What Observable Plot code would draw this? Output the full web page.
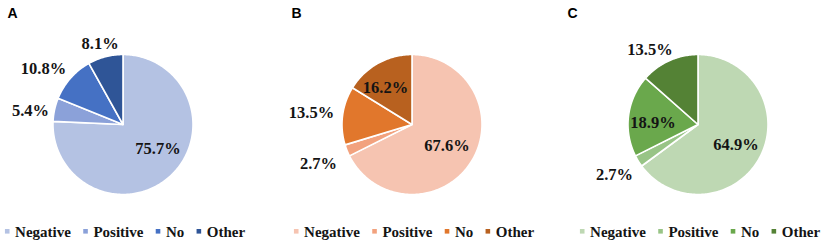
<!DOCTYPE html>
<html><head><meta charset="utf-8">
<script src="https://cdn.jsdelivr.net/npm/d3@7"></script>
<script src="https://cdn.jsdelivr.net/npm/@observablehq/plot@0.6"></script>
<style>body{margin:0;background:#fff}</style>
</head><body><div id="chart"></div>
<script>
// ---- data ----
const categories = ["Negative", "Positive", "No", "Other"];
const panelLetters = ["A", "B", "C"];
const valuesA = [75.7, 5.4, 10.8, 8.1];
const valuesB = [67.6, 2.7, 13.5, 16.2];
const valuesC = [64.9, 2.7, 18.9, 13.5];
const colorsA = ["#b4c2e3", "#8ba1d9", "#4571c4", "#2f5597"];
const colorsB = ["#f6c4b1", "#f2a27e", "#e1772c", "#b8611f"];
const colorsC = ["#bed8b3", "#98c486", "#6aa84c", "#548235"];

// ---- layout ----
const W = 829, H = 250, R = 70;
const layout = [
  {cx: 122.5, cy: 124, letterX: 7, place: [
    {inside: true, dx: 6, dy: -6.4}, {inside: false, dx: -7, dy: 4.5},
    {inside: false, dx: -13.9, dy: 1.6}, {inside: false, dx: -0.9, dy: 4.2}]},
  {cx: 411.5, cy: 124, letterX: 291, place: [
    {inside: true, dx: -0.7, dy: -1.1}, {inside: false, dx: -12.3, dy: 6.8},
    {inside: false, dx: -13.7, dy: -1}, {inside: true, dx: -6, dy: 0}]},
  {cx: 697.5, cy: 124, letterX: 567, place: [
    {inside: true, dx: 0.5, dy: 1.1}, {inside: false, dx: -8.9, dy: 4.3},
    {inside: true, dx: -3.3, dy: 4.1}, {inside: false, dx: -12, dy: 5}]}
];
const panelValues = [valuesA, valuesB, valuesC];
const panelColors = [colorsA, colorsB, colorsC];

const canvas = document.createElement("canvas");
const ctx = canvas.getContext("2d");
const legendFont = 15;
ctx.font = `bold ${legendFont}px 'Liberation Serif'`;

const slicePts = [], labels = [], legendSq = [], legendTxt = [], letters = [];
const pie = d3.pie().sort(null).value(d => d.value);

panelLetters.forEach((letter, pi) => {
  const L = layout[pi];
  const arcs = pie(categories.map((c, i) => ({cat: c, value: panelValues[pi][i], color: panelColors[pi][i]})));
  arcs.forEach(a => {
    const key = letter + "-" + a.data.cat;
    const color = a.data.color;
    const n = Math.max(2, Math.ceil((a.endAngle - a.startAngle) / (Math.PI / 180)));
    slicePts.push({key, x: L.cx, y: L.cy, color});
    for (let k = 0; k <= n; k++) {
      const t = a.startAngle + (a.endAngle - a.startAngle) * k / n;
      slicePts.push({key, x: L.cx + R * Math.sin(t), y: L.cy - R * Math.cos(t), color});
    }
    const mid = (a.startAngle + a.endAngle) / 2;
    const pl = L.place[a.index];
    const d = pl.inside ? 0.6 * R : 1.25 * R;
    labels.push({x: L.cx + d * Math.sin(mid) + pl.dx, y: L.cy - d * Math.cos(mid) + pl.dy, text: a.data.value.toFixed(1) + "%"});
  });
  // legend flow layout, centred under the pie
  const sq = 4.6, gapT = 5.6, gapI = 12.3;
  const widths = categories.map(c => ctx.measureText(c).width);
  const total = widths.reduce((s, w) => s + sq + gapT + w, 0) + gapI * (categories.length - 1);
  let x = L.cx + 2 - total / 2;
  categories.forEach((c, i) => {
    legendSq.push({x: x + sq / 2, y: 230.8, color: panelColors[pi][i]});
    legendTxt.push({x: x + sq + gapT, y: 232, text: c});
    x += sq + gapT + widths[i] + gapI;
  });
  letters.push({x: L.letterX, y: 13, text: letter});
});

const chart = Plot.plot({
  width: W, height: H, margin: 0,
  x: {domain: [0, W], range: [0, W], axis: null},
  y: {domain: [0, H], range: [0, H], axis: null},
  color: {type: "identity"},
  marks: [
    Plot.line(slicePts, {x: "x", y: "y", z: "key", fill: "color", stroke: "white", strokeWidth: 1.6, strokeLinejoin: "round", curve: "linear-closed"}),
    Plot.text(labels, {x: "x", y: "y", text: "text", fontFamily: "Liberation Serif", fontWeight: "bold", fontSize: 16.5, fill: "#141414"}),
    Plot.dot(legendSq, {x: "x", y: "y", fill: "color", symbol: "square", r: 4.6 / Math.sqrt(Math.PI), stroke: null}),
    Plot.text(legendTxt, {x: "x", y: "y", text: "text", textAnchor: "start", fontFamily: "Liberation Serif", fontWeight: "bold", fontSize: legendFont, fill: "#141414"}),
    Plot.text(letters, {x: "x", y: "y", text: "text", textAnchor: "start", fontFamily: "Liberation Sans", fontWeight: "bold", fontSize: 14, fill: "#000"})
  ]
});
document.getElementById("chart").appendChild(chart);
</script>
</body></html>
